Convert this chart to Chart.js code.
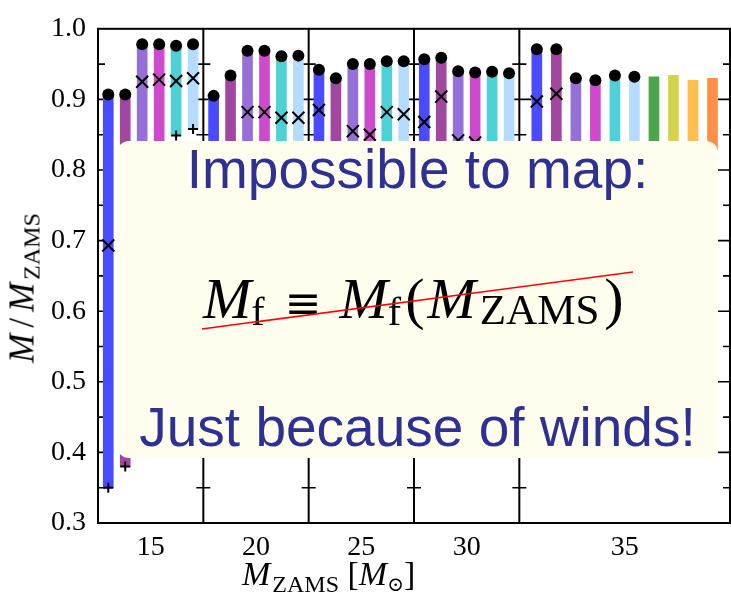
<!DOCTYPE html>
<html>
<head>
<meta charset="utf-8">
<script src="https://cdn.jsdelivr.net/npm/chart.js@4.4.0/dist/chart.umd.min.js"></script>
<style>
    body { margin: 0; background: #fff; }
    #wrap { position: relative; width: 731px; height: 594px; }
    #grafik { position: absolute; left: 0; top: 0; }
    .math { position: absolute; font-family: "Liberation Serif", "DejaVu Serif", serif; color: #000; white-space: nowrap; line-height: 1; }
    .math i { font-style: italic; }
    .math sub { vertical-align: baseline; position: relative; }
    #kotak { position: absolute; left: 117px; top: 141px; width: 601px; height: 317px; background: #FFFEEE; border-radius: 12px; }
    .pesan { position: absolute; left: 0; width: 100%; text-align: center; font-family: "Liberation Sans", Arial, sans-serif; font-size: 55px; color: #2E3192; line-height: 1; white-space: nowrap; }
    #coret { position: absolute; left: 0; top: 0; pointer-events: none; }
</style>
</head>
<body>
<div id="wrap">
    <canvas id="grafik" width="731" height="594"></canvas>

    <div class="math" id="judulY" style="left:22px; top:288px; font-size:35px; transform: translate(-50%, -50%) rotate(-90deg);">
        <i>M</i><span style="margin:0 6px;">/</span><i>M</i><sub style="font-size:24px; top:6px; margin-left:3px;">ZAMS</sub>
    </div>
    <div class="math" id="judulX" style="left:242px; top:557px; font-size:34px;">
        <i>M</i><sub style="font-size:24px; top:7px; margin-left:2px;">ZAMS</sub> [<i>M</i><sub style="font-size:20px; top:6px;">&#x2299;</sub>]
    </div>

    <div id="kotak">
        <div class="pesan" style="top:1px;">Impossible to map:</div>
        <div class="pesan" style="top:259px;">Just because of winds!</div>
    </div>
    <div class="math" id="rumus" style="left:203px; top:270px; font-size:58px;">
        <i>M</i><sub style="font-size:40px; top:7px;">f</sub><span style="margin:0 18px 0 20px; font-family:'DejaVu Serif', serif; font-size:44px;">&#x2261;</span><i>M</i><sub style="font-size:40px; top:7px;">f</sub><span style="margin:0 3px 0 4px;">(</span><i>M</i><sub style="font-size:43px; top:6px; margin-left:4px;">ZAMS</sub><span style="margin-left:5px;">)</span>
    </div>
    <svg id="coret" width="731" height="594">
        <line x1="202" y1="329" x2="633" y2="272" stroke="#FF0000" stroke-width="1.5" />
    </svg>
</div>

<script>
// label sumbu x (M_ZAMS)
const labelMassa = ['15', '20', '25', '30', '35']

// puncak batang = massa akhir (titik hitam), per kelompok massa
const puncak15 = [0.907, 0.907, 0.978, 0.978, 0.976, 0.978]
const puncak20 = [0.905, 0.934, 0.969, 0.969, 0.961, 0.962]
const puncak25 = [0.942, 0.930, 0.950, 0.950, 0.954, 0.954]
const puncak30 = [0.957, 0.959, 0.940, 0.938, 0.939, 0.937]
const puncak35 = [0.971, 0.971, 0.930, 0.927, 0.934, 0.932, 0.932, 0.934, 0.927, 0.930]

// tanda silang (x)
const silang15 = [0.693, 0.62, 0.925, 0.928, 0.926, 0.930]
const silang20 = [0.80, 0.78, 0.882, 0.882, 0.874, 0.874]
const silang25 = [0.885, 0.80, 0.855, 0.850, 0.882, 0.879]
const silang30 = [0.868, 0.904, 0.842, 0.839, 0.82, 0.82]
const silang35 = [0.897, 0.908, 0.80, 0.80, 0.81, 0.81, null, null, null, null]

// tanda plus (+) = dasar batang
const plus15 = [0.350, 0.380, 0.70, 0.70, 0.849, 0.858]
const plus20 = [0.60, 0.55, 0.72, 0.72, 0.75, 0.75]
const plus25 = [0.70, 0.62, 0.68, 0.66, 0.78, 0.78]
const plus30 = [0.72, 0.78, 0.70, 0.70, 0.74, 0.74]
const plus35 = [0.78, 0.80, 0.70, 0.70, 0.75, 0.75, 0.70, 0.70, 0.70, 0.70]

const puncak = [puncak15, puncak20, puncak25, puncak30, puncak35]
const silang = [silang15, silang20, silang25, silang30, silang35]
const plus = [plus15, plus20, plus25, plus30, plus35]

// warna tiap model angin
const warnaModel = ['#4A4AFF', '#A2479F', '#9470D8', '#CD4ACD', '#4DD1D4', '#B5DCFF', '#4CA54C', '#D4D34B', '#FFBF4D', '#FF8E46']
const modelBertitik = 6

// tata letak kelompok pada sumbu x
const awalGrup = [0, 1, 2, 3, 4]
const lebarGrup = [1, 1, 1, 1, 2]
const jarakBatang = [0.161, 0.161, 0.161, 0.161, 0.1853]
const batasGrup = [1, 2, 3, 4]
const posisiLabel = [0.5, 1.5, 2.5, 3.5, 5]

const posisiX = (g, i) => {
    const n = puncak[g].length
    return awalGrup[g] + (lebarGrup[g] - n * jarakBatang[g]) / 2 + (i + 0.5) * jarakBatang[g]
}

let dataBatang = []
let warnaBatang = []
let dataTitik = []
let dataSilang = []
let dataPlus = []
puncak.forEach((grup, g) => {
    grup.forEach((v, i) => {
        const x = posisiX(g, i)
        dataBatang.push({ x: x, y: [plus[g][i], v] })
        warnaBatang.push(warnaModel[i])
        if (i < modelBertitik) dataTitik.push({ x: x, y: v })
        if (silang[g][i] != null) dataSilang.push({ x: x, y: silang[g][i] })
        if (i < modelBertitik) dataPlus.push({ x: x, y: plus[g][i] })
    })
})

// bingkai, garis pemisah kelompok dan tick kecil
const bingkai = {
    id: 'bingkai',
    beforeDatasetsDraw(chart) {
        const { ctx, chartArea: a, scales: { x, y } } = chart
        ctx.save()
        ctx.strokeStyle = '#000'
        ctx.lineWidth = 2
        ctx.strokeRect(a.left, a.top, a.right - a.left, a.bottom - a.top)
        const pemisah = batasGrup.map(v => x.getPixelForValue(v))
        pemisah.forEach(px => {
            ctx.beginPath()
            ctx.moveTo(px, a.top)
            ctx.lineTo(px, a.bottom)
            ctx.stroke()
        })
        ctx.lineWidth = 1.6
        for (let k = 1; k < 14; k++) {
            const py = y.getPixelForValue(0.3 + k * 0.05)
            const pj = k % 2 == 0 ? 12 : 7
            ctx.beginPath()
            ctx.moveTo(a.left, py); ctx.lineTo(a.left + pj, py)
            ctx.moveTo(a.right, py); ctx.lineTo(a.right - pj, py)
            pemisah.forEach(px => {
                ctx.moveTo(px - pj, py); ctx.lineTo(px + pj, py)
            })
            ctx.stroke()
        }
        ctx.restore()
    }
}

const fontAngka = { family: '"Liberation Serif", serif', size: 28 }

const ctx = document.getElementById('grafik').getContext('2d')
let grafik
const buatGrafik = () => {
    grafik = new Chart(ctx, {
        type: 'bar',
        data: {
            datasets: [{
                type: 'bar',
                data: dataBatang,
                backgroundColor: warnaBatang,
                barThickness: 10,
                grouped: false,
                order: 4
            }, {
                type: 'line',
                data: dataPlus,
                showLine: false,
                pointStyle: 'cross',
                pointRadius: 5,
                borderColor: '#000',
                borderWidth: 2,
                order: 3
            }, {
                type: 'line',
                data: dataSilang,
                showLine: false,
                pointStyle: 'crossRot',
                pointRadius: 8.5,
                borderColor: '#000',
                borderWidth: 2,
                order: 2
            }, {
                type: 'line',
                data: dataTitik,
                showLine: false,
                pointStyle: 'circle',
                pointRadius: 6,
                backgroundColor: '#000',
                borderColor: '#000',
                borderWidth: 0,
                order: 1
            }]
        },
        options: {
            responsive: false,
            animation: false,
            layout: { autoPadding: false, padding: { top: 24, right: 1, left: 0, bottom: 0 } },
            plugins: { legend: { display: false }, tooltip: { enabled: false } },
            scales: {
                x: {
                    type: 'linear',
                    min: 0,
                    max: 6,
                    offset: false,
                    grid: { display: false, drawTicks: false, offset: false },
                    border: { display: false },
                    afterBuildTicks: s => { s.ticks = posisiLabel.map(v => ({ value: v })) },
                    afterFit: s => { s.height = 71; s.paddingLeft = 0; s.paddingRight = 0 },
                    ticks: {
                        color: '#000',
                        font: fontAngka,
                        padding: 8,
                        maxRotation: 0,
                        callback: (v, i) => labelMassa[i]
                    }
                },
                y: {
                    min: 0.3,
                    max: 1.0,
                    grid: { display: false, drawTicks: false },
                    border: { display: false },
                    afterFit: s => { s.width = 98 },
                    ticks: {
                        stepSize: 0.1,
                        color: '#000',
                        font: fontAngka,
                        padding: 12,
                        callback: v => v.toFixed(1)
                    }
                }
            }
        },
        plugins: [bingkai]
    })
}

buatGrafik()
</script>
</body>
</html>
